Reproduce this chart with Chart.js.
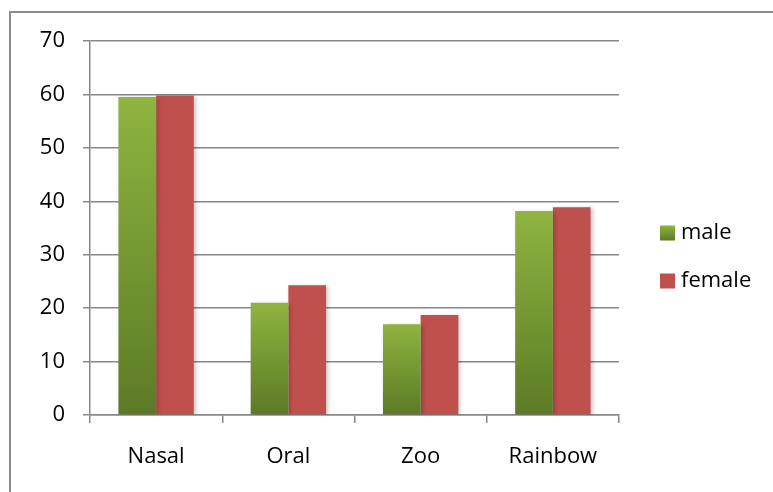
<!DOCTYPE html>
<html>
<head>
<meta charset="utf-8">
<script src="https://cdn.jsdelivr.net/npm/chart.js@4/dist/chart.umd.min.js"></script>
<style>
  html, body { margin: 0; padding: 0; background: #fff; }
  #wrap { position: relative; width: 773px; height: 492px; }
  canvas { display: block; }
</style>
</head>
<body>
<div id="wrap"><canvas id="c" width="773" height="492"></canvas></div>
<script>
// Categories and series values
const categories = ['Nasal', 'Oral', 'Zoo', 'Rainbow'];
const maleValues = [59.5, 21.0, 17.0, 38.2];
const femaleValues = [59.8, 24.3, 18.7, 38.9];
const seriesNames = ['male', 'female'];
const yTicks = [0, 10, 20, 30, 40, 50, 60, 70];

const FONT = '"Open Sans", Lato, sans-serif';
const FONT_SIZE = 22;
const GRID = '#888888';
const MALE_TOP = '#8fb440';
const MALE_BOTTOM = '#5c7a26';
const FEMALE = '#c0504d';

// Vertical gradient for each male bar: light at the top, darker at the base
function maleFill(ctx) {
  const chart = ctx.chart;
  if (!chart.chartArea || ctx.type !== 'data') return MALE_TOP;
  const y = chart.scales.y;
  const top = y.getPixelForValue(ctx.raw);
  const bottom = y.getPixelForValue(0);
  const g = chart.ctx.createLinearGradient(0, top, 0, bottom);
  g.addColorStop(0, MALE_TOP);
  g.addColorStop(1, MALE_BOTTOM);
  return g;
}

// Outer frame (top and left edges)
const framePlugin = {
  id: 'frame',
  beforeDraw(chart) {
    const c = chart.ctx;
    c.save();
    c.fillStyle = '#ffffff';
    c.fillRect(0, 0, chart.width, chart.height);
    c.strokeStyle = '#8c8c8c';
    c.lineWidth = 2;
    c.beginPath();
    c.moveTo(10, chart.height);
    c.lineTo(10, 12);
    c.lineTo(chart.width, 12);
    c.stroke();
    c.restore();
  }
};

// Soft drop shadow under the bars
const shadowPlugin = {
  id: 'barShadow',
  beforeDatasetsDraw(chart) {
    const c = chart.ctx;
    c.save();
    c.shadowColor = 'rgba(0,0,0,0.22)';
    c.shadowBlur = 4;
    c.shadowOffsetX = 2;
    c.shadowOffsetY = 1;
  },
  afterDatasetsDraw(chart) {
    chart.ctx.restore();
  }
};

// Legend on the right with square swatches
const legendPlugin = {
  id: 'sideLegend',
  afterDraw(chart) {
    const c = chart.ctx;
    const x = 660, rows = [233, 281], box = 15;
    c.save();
    chart.data.datasets.forEach((ds, i) => {
      const cy = rows[i];
      if (i === 0) {
        const g = c.createLinearGradient(0, cy - box / 2, 0, cy + box / 2);
        g.addColorStop(0, MALE_TOP);
        g.addColorStop(1, MALE_BOTTOM);
        c.fillStyle = g;
      } else {
        c.fillStyle = FEMALE;
      }
      c.fillRect(x, cy - box / 2, box, box);
      c.fillStyle = '#000';
      c.font = FONT_SIZE + 'px ' + FONT;
      c.textBaseline = 'middle';
      c.textAlign = 'left';
      c.fillText(ds.label, x + box + 6, cy);
    });
    c.restore();
  }
};

new Chart(document.getElementById('c'), {
  type: 'bar',
  data: {
    labels: categories,
    datasets: [
      { label: seriesNames[0], data: maleValues, backgroundColor: maleFill },
      { label: seriesNames[1], data: femaleValues, backgroundColor: FEMALE }
    ]
  },
  options: {
    responsive: false,
    animation: false,
    devicePixelRatio: 1,
    layout: { padding: { left: 20, top: 41, right: 154, bottom: 10 } },
    datasets: { bar: { categoryPercentage: 0.57, barPercentage: 1.0 } },
    plugins: { legend: { display: false }, tooltip: { enabled: false } },
    scales: {
      x: {
        grid: { offset: true, drawOnChartArea: false, drawTicks: true, tickLength: 8, color: GRID, lineWidth: 1.5 },
        border: { color: GRID, width: 1.5 },
        ticks: { color: '#000', font: { family: FONT, size: FONT_SIZE }, padding: 21 },
        afterFit(s) { s.height = 492 - 415 - 10; }
      },
      y: {
        min: 0, max: 70,
        afterBuildTicks(s) { s.ticks = yTicks.map(v => ({ value: v })); },
        grid: { color: GRID, lineWidth: 1.5, tickLength: 7 },
        border: { color: GRID, width: 1.5 },
        ticks: { color: '#000', font: { family: FONT, size: FONT_SIZE }, padding: 18 },
        afterFit(s) { s.width = 90 - 20; }
      }
    }
  },
  plugins: [framePlugin, shadowPlugin, legendPlugin]
});
</script>
</body>
</html>
